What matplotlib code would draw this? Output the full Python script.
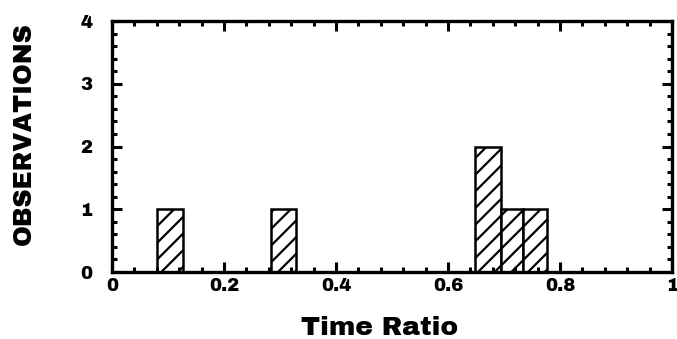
import matplotlib
matplotlib.use("Agg")
import matplotlib.pyplot as plt
from matplotlib.ticker import MultipleLocator

# Datos: borde izquierdo, ancho y altura de cada barra
bar_left = [0.081, 0.284, 0.649, 0.695, 0.734]
bar_width = [0.045, 0.045, 0.046, 0.039, 0.042]
observations = [1, 1, 2, 1, 1]

x_ticks = [0, 0.2, 0.4, 0.6, 0.8, 1]
x_tick_labels = ["0", "0.2", "0.4", "0.6", "0.8", "1"]
y_ticks = [0, 1, 2, 3, 4]
y_tick_labels = ["0", "1", "2", "3", "4"]

plt.rcParams["hatch.linewidth"] = 1.6

fig = plt.figure(figsize=(6.77, 3.39), dpi=100)
ax = fig.add_axes([0.1654, 0.1976, 0.8272, 0.7404])

ax.bar(bar_left, observations, width=bar_width, align="edge",
       color="white", edgecolor="black", linewidth=1.8, hatch="//")

ax.set_xlim(0, 1)
ax.set_ylim(0, 4)

ax.set_xticks(x_ticks)
ax.set_xticklabels(x_tick_labels)
ax.set_yticks(y_ticks)
ax.set_yticklabels(y_tick_labels)
ax.xaxis.set_minor_locator(MultipleLocator(0.04))
ax.yaxis.set_minor_locator(MultipleLocator(0.2))

ax.tick_params(which="both", direction="in", top=True, right=True, width=2.2)
ax.tick_params(which="major", length=7)
ax.tick_params(axis="x", which="major", pad=4)
ax.tick_params(axis="y", which="major", pad=14)
ax.tick_params(which="minor", length=3.5)

title_font = ["Archivo Black", "Roboto", "DejaVu Sans"]
for lab in ax.get_xticklabels() + ax.get_yticklabels():
    lab.set_fontfamily(title_font)
    lab.set_fontweight("black")
    lab.set_fontsize(13)

for s in ax.spines.values():
    s.set_linewidth(2.4)

ax.set_xlabel("Time Ratio", fontfamily=title_font, fontweight="black",
              fontsize=19)
ax.xaxis.set_label_coords(0.477, -0.175)
ax.set_ylabel("OBSERVATIONS", fontfamily=title_font, fontweight="black",
              fontsize=18)
ax.yaxis.set_label_coords(-0.135, 0.55)

plt.savefig("out.png", dpi=100)
